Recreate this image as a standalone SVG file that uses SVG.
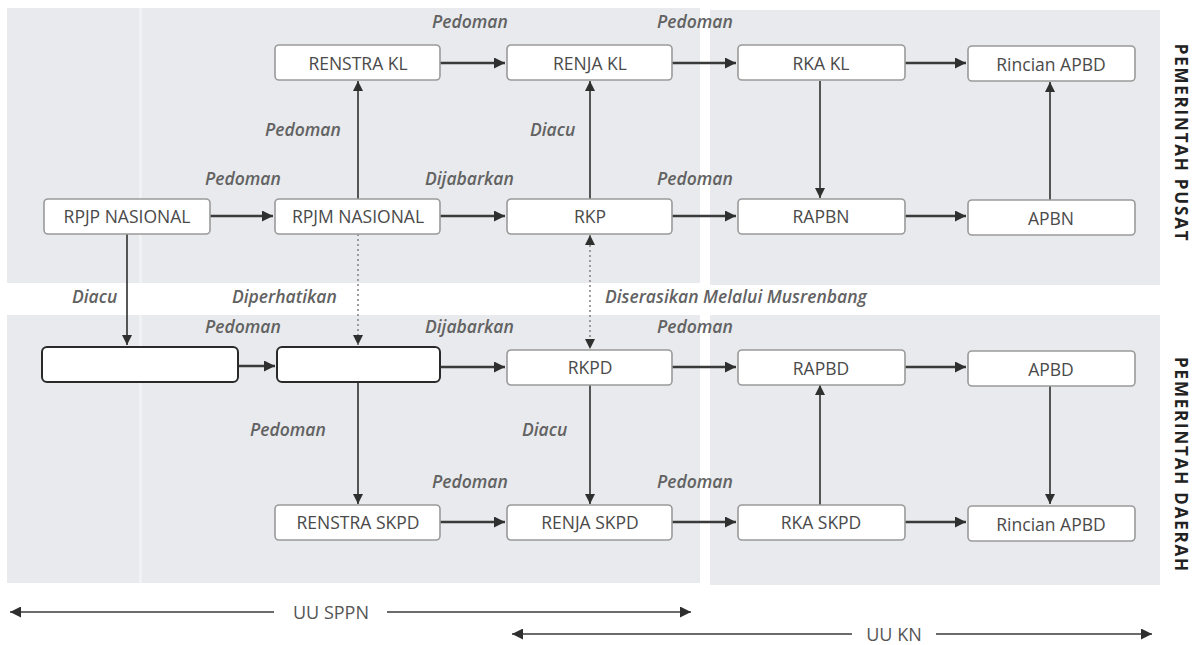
<svg xmlns="http://www.w3.org/2000/svg" width="1196" height="645" viewBox="0 0 1196 645">
<defs>
<style>
.bg{fill:#e8eaed}
.seam{fill:#f1f2f4}
.box{fill:#ffffff;stroke:#9a9a9a;stroke-width:1.6}
.blank{fill:#ffffff;stroke:#2a2a2a;stroke-width:2}
.t{font-family:"Open Sans","Liberation Sans",sans-serif;font-size:17.5px;fill:#4a4a4a;text-anchor:middle;dominant-baseline:central}
.lb{font-family:"Open Sans","Liberation Sans",sans-serif;font-size:17.5px;font-style:italic;font-weight:600;fill:#626262}
.side{font-family:"Open Sans","Liberation Sans",sans-serif;font-size:17px;font-weight:bold;fill:#222;text-anchor:middle;letter-spacing:1.8px}
.h{stroke:#3a3a3a;stroke-width:2.6;fill:none}
.v{stroke:#3a3a3a;stroke-width:1.7;fill:none}
.d{stroke:#888;stroke-width:1.6;fill:none;stroke-dasharray:2 3}
.law{font-family:"Open Sans","Liberation Sans",sans-serif;font-size:18px;fill:#555;text-anchor:middle;dominant-baseline:central}
</style>
<marker id="ah" viewBox="0 0 10 10" refX="10" refY="5" markerWidth="13" markerHeight="11" markerUnits="userSpaceOnUse" orient="auto-start-reverse"><path d="M0,0 L10,5 L0,10 Z" fill="#2f2f2f"/></marker>
<marker id="av" viewBox="0 0 10 10" refX="10" refY="5" markerWidth="13" markerHeight="10" markerUnits="userSpaceOnUse" orient="auto-start-reverse"><path d="M0,0 L10,5 L0,10 Z" fill="#2f2f2f"/></marker>
</defs>
<rect width="1196" height="645" fill="#ffffff"/>
<g id="panels">
<rect class="bg" x="7" y="8" width="693" height="275"/>
<rect class="bg" x="710" y="10" width="450" height="275"/>
<rect class="bg" x="7" y="315" width="693" height="268"/>
<rect class="bg" x="710" y="315" width="450" height="270"/>
<rect class="seam" x="139" y="8" width="3" height="275"/>
<rect class="seam" x="139" y="315" width="3" height="268"/>
</g>
<g id="connectors">
<line class="h" x1="440" y1="63" x2="505" y2="63" marker-end="url(#ah)"/>
<line class="h" x1="672" y1="63" x2="736" y2="63" marker-end="url(#ah)"/>
<line class="h" x1="905" y1="63" x2="966" y2="63" marker-end="url(#ah)"/>
<line class="h" x1="210" y1="216" x2="273" y2="216" marker-end="url(#ah)"/>
<line class="h" x1="440" y1="216" x2="505" y2="216" marker-end="url(#ah)"/>
<line class="h" x1="672" y1="216" x2="736" y2="216" marker-end="url(#ah)"/>
<line class="h" x1="905" y1="216" x2="966" y2="216" marker-end="url(#ah)"/>
<line class="h" x1="238" y1="366" x2="275" y2="366" marker-end="url(#ah)"/>
<line class="h" x1="440" y1="367" x2="505" y2="367" marker-end="url(#ah)"/>
<line class="h" x1="672" y1="367" x2="736" y2="367" marker-end="url(#ah)"/>
<line class="h" x1="905" y1="367" x2="966" y2="367" marker-end="url(#ah)"/>
<line class="h" x1="440" y1="522" x2="505" y2="522" marker-end="url(#ah)"/>
<line class="h" x1="672" y1="522" x2="736" y2="522" marker-end="url(#ah)"/>
<line class="h" x1="905" y1="522" x2="966" y2="522" marker-end="url(#ah)"/>
<line class="v" x1="358" y1="199" x2="358" y2="81" marker-end="url(#av)"/>
<line class="v" x1="590" y1="199" x2="590" y2="81" marker-end="url(#av)"/>
<line class="v" x1="820" y1="81" x2="820" y2="198" marker-end="url(#av)"/>
<line class="v" x1="1050" y1="200" x2="1050" y2="82" marker-end="url(#av)"/>
<line class="v" x1="127" y1="233" x2="127" y2="345" marker-end="url(#av)"/>
<line class="d" x1="358" y1="234" x2="358" y2="345" marker-end="url(#av)"/>
<line class="d" x1="590" y1="235" x2="590" y2="349" marker-start="url(#av)" marker-end="url(#av)"/>
<line class="v" x1="358" y1="382" x2="358" y2="504" marker-end="url(#av)"/>
<line class="v" x1="590" y1="384" x2="590" y2="504" marker-end="url(#av)"/>
<line class="v" x1="820" y1="505" x2="820" y2="385" marker-end="url(#av)"/>
<line class="v" x1="1050" y1="386" x2="1050" y2="504" marker-end="url(#av)"/>
<line class="v" x1="274" y1="612" x2="10" y2="612" marker-end="url(#ah)"/>
<line class="v" x1="387" y1="612" x2="691" y2="612" marker-end="url(#ah)"/>
<line class="v" x1="852" y1="634" x2="512" y2="634" marker-end="url(#ah)"/>
<line class="v" x1="936" y1="634" x2="1152" y2="634" marker-end="url(#ah)"/>
</g>
<g id="labels">
<text class="lb" x="432" y="28">Pedoman</text>
<text class="lb" x="657" y="28">Pedoman</text>
<text class="lb" x="265" y="136">Pedoman</text>
<text class="lb" x="530" y="136">Diacu</text>
<text class="lb" x="205" y="185">Pedoman</text>
<text class="lb" x="425" y="185">Dijabarkan</text>
<text class="lb" x="657" y="185">Pedoman</text>
<text class="lb" x="72" y="303">Diacu</text>
<text class="lb" x="232" y="303">Diperhatikan</text>
<text class="lb" x="605" y="303">Diserasikan Melalui Musrenbang</text>
<text class="lb" x="205" y="333">Pedoman</text>
<text class="lb" x="425" y="333">Dijabarkan</text>
<text class="lb" x="657" y="333">Pedoman</text>
<text class="lb" x="250" y="436">Pedoman</text>
<text class="lb" x="522" y="436">Diacu</text>
<text class="lb" x="432" y="488">Pedoman</text>
<text class="lb" x="657" y="488">Pedoman</text>
<text class="law" x="331" y="612">UU SPPN</text>
<text class="law" x="894" y="634">UU KN</text>
<text class="side" transform="translate(1175,143) rotate(90)">PEMERINTAH PUSAT</text>
<text class="side" transform="translate(1175,465) rotate(90)">PEMERINTAH DAERAH</text>
</g>
<g id="n-renstra-kl"><rect class="box" x="275" y="45" width="165" height="35" rx="4"/><text class="t" x="358" y="63">RENSTRA KL</text></g>
<g id="n-renja-kl"><rect class="box" x="507" y="45" width="165" height="35" rx="4"/><text class="t" x="590" y="63">RENJA KL</text></g>
<g id="n-rka-kl"><rect class="box" x="738" y="45" width="167" height="35" rx="4"/><text class="t" x="821" y="63">RKA KL</text></g>
<g id="n-rincian-apbd-1"><rect class="box" x="968" y="46" width="167" height="35" rx="4"/><text class="t" x="1051" y="64">Rincian APBD</text></g>
<g id="n-rpjp"><rect class="box" x="44" y="199" width="166" height="35" rx="4"/><text class="t" x="127" y="216">RPJP NASIONAL</text></g>
<g id="n-rpjm"><rect class="box" x="275" y="199" width="165" height="35" rx="4"/><text class="t" x="358" y="216">RPJM NASIONAL</text></g>
<g id="n-rkp"><rect class="box" x="507" y="199" width="165" height="35" rx="4"/><text class="t" x="590" y="216">RKP</text></g>
<g id="n-rapbn"><rect class="box" x="738" y="199" width="167" height="35" rx="4"/><text class="t" x="821" y="216">RAPBN</text></g>
<g id="n-apbn"><rect class="box" x="968" y="200" width="167" height="35" rx="4"/><text class="t" x="1051" y="218">APBN</text></g>
<g id="n-blank-1"><rect class="blank" x="42" y="347" width="196" height="35" rx="5"/></g>
<g id="n-blank-2"><rect class="blank" x="277" y="347" width="163" height="35" rx="5"/></g>
<g id="n-rkpd"><rect class="box" x="507" y="350" width="165" height="35" rx="4"/><text class="t" x="590" y="367">RKPD</text></g>
<g id="n-rapbd"><rect class="box" x="738" y="350" width="167" height="35" rx="4"/><text class="t" x="821" y="368">RAPBD</text></g>
<g id="n-apbd"><rect class="box" x="968" y="351" width="167" height="35" rx="4"/><text class="t" x="1051" y="369">APBD</text></g>
<g id="n-renstra-skpd"><rect class="box" x="275" y="505" width="165" height="35" rx="4"/><text class="t" x="358" y="522">RENSTRA SKPD</text></g>
<g id="n-renja-skpd"><rect class="box" x="507" y="505" width="165" height="35" rx="4"/><text class="t" x="590" y="522">RENJA SKPD</text></g>
<g id="n-rka-skpd"><rect class="box" x="738" y="505" width="167" height="35" rx="4"/><text class="t" x="821" y="522">RKA SKPD</text></g>
<g id="n-rincian-apbd-2"><rect class="box" x="968" y="506" width="167" height="35" rx="4"/><text class="t" x="1051" y="524">Rincian APBD</text></g>
</svg>
